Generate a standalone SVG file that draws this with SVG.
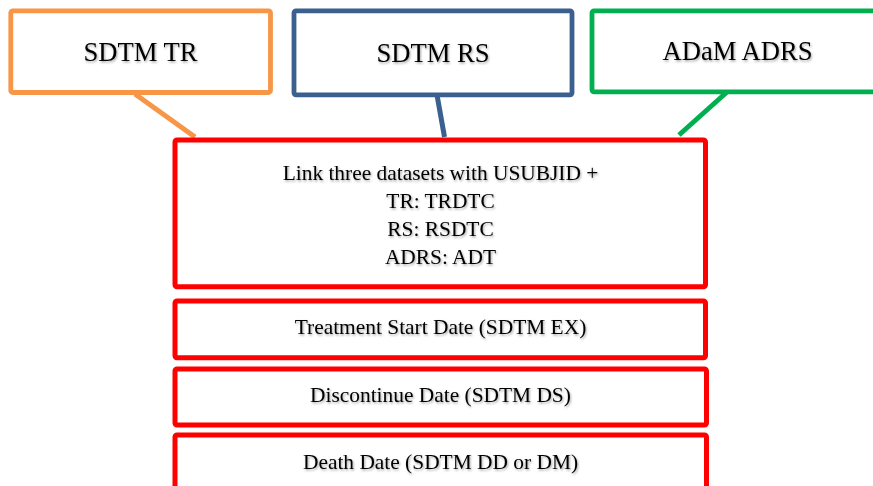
<svg xmlns="http://www.w3.org/2000/svg" width="873" height="486" viewBox="0 0 873 486">
<defs>
<filter id="shadow" x="-10%" y="-30%" width="120%" height="160%">
<feDropShadow dx="1" dy="1.5" stdDeviation="0.8" flood-color="#000" flood-opacity="0.35"/>
</filter>
<style>
.box{fill:#fff;stroke-linejoin:round}
.top{stroke-width:4.8}
.red{stroke:#ff0000;stroke-width:5}
.t{font-family:"Liberation Serif","Times New Roman",serif;fill:#000;text-anchor:middle;filter:url(#shadow)}
.big{font-size:26.6px}
.small{font-size:21.4px}
.conn{stroke-width:5;fill:none}
</style>
</defs>
<rect width="873" height="486" fill="#fff"/>
<g id="connectors">
<line class="conn" x1="135" y1="94" x2="195" y2="137" stroke="#f79646"/>
<line class="conn" x1="437" y1="95" x2="444.5" y2="137" stroke="#3b5f8e"/>
<line class="conn" x1="727" y1="92" x2="679" y2="135" stroke="#00b050"/>
</g>
<g id="sdtm-tr">
<rect class="box top" x="10.8" y="10.8" width="259.7" height="81.7" rx="2" stroke="#f79646"/>
<text class="t big" x="140.6" y="61">SDTM TR</text>
</g>
<g id="sdtm-rs">
<rect class="box top" x="294" y="10.8" width="278" height="84" rx="2" stroke="#3b5f8e"/>
<text class="t big" x="433" y="62">SDTM RS</text>
</g>
<g id="adam-adrs">
<rect class="box top" x="592" y="10.8" width="300" height="81" rx="2" stroke="#00b050"/>
<text class="t big" x="737.5" y="60">ADaM ADRS</text>
</g>
<g id="link">
<rect class="box red" x="175" y="140" width="530.5" height="146.7" rx="2"/>
<text class="t small" x="440.5" y="179.5">Link three datasets with USUBJID +</text>
<text class="t small" x="440.5" y="207.5">TR: TRDTC</text>
<text class="t small" x="440.5" y="235.5">RS: RSDTC</text>
<text class="t small" x="440.5" y="263.5">ADRS: ADT</text>
</g>
<g id="treatment-start">
<rect class="box red" x="175" y="301" width="530.5" height="56.7" rx="2"/>
<text class="t small" x="440.5" y="334">Treatment Start Date (SDTM EX)</text>
</g>
<g id="discontinue">
<rect class="box red" x="175" y="369" width="531.5" height="56" rx="2"/>
<text class="t small" x="440.5" y="402">Discontinue Date (SDTM DS)</text>
</g>
<g id="death">
<rect class="box red" x="175" y="435" width="531.5" height="70" rx="2"/>
<text class="t small" x="440.5" y="469">Death Date (SDTM DD or DM)</text>
</g>
</svg>
